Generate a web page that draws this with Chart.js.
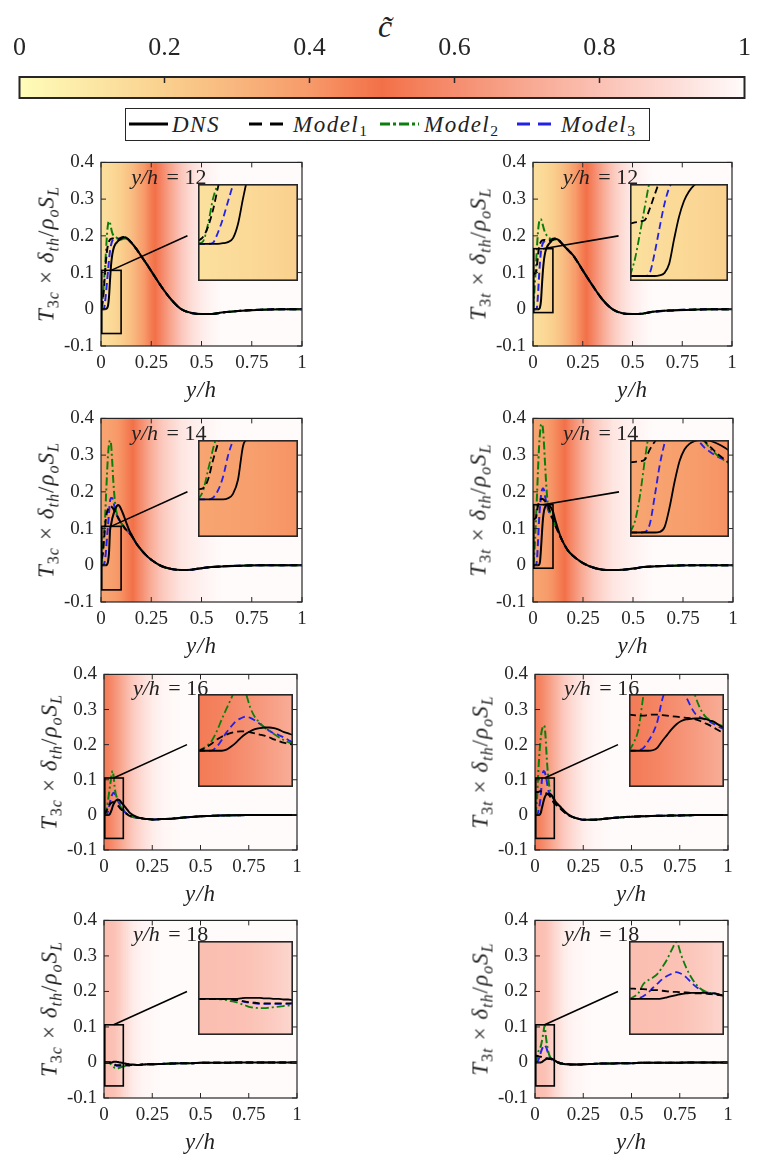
<!DOCTYPE html>
<html>
<head>
<meta charset="utf-8">
<script src="https://cdn.jsdelivr.net/npm/chart.js@4.4.1/dist/chart.umd.min.js"></script>
<style>
  body { margin: 0; background: #fff; }
  #fig { position: relative; width: 764px; height: 1154px; overflow: hidden;
         font-family: "Liberation Serif", "Times New Roman", "DejaVu Serif", "Noto Serif", serif; color: #222; }
  #fig canvas { position: absolute; }
  .lab { position: absolute; white-space: nowrap; line-height: 1; }
  .lab sub { font-size: 0.7em; vertical-align: -0.32em; line-height: 0; }
  .ylab { font-size: 23px; letter-spacing: 1px; transform: translate(-50%, -50%) rotate(-90deg); }
  .xlab { font-size: 23px; font-style: italic; letter-spacing: 1px; transform: translate(-50%, -50%); }
  .lg { position: absolute; top: 124px; transform: translateY(-50%); font-size: 23px;
        font-style: italic; letter-spacing: 1.5px; white-space: nowrap; line-height: 1; }
  .lg sub { font-size: 0.68em; font-style: normal; vertical-align: -0.3em; line-height: 0; }
  .lsw { position: absolute; top: 119px; }
</style>
</head>
<body>
<div id="fig">
  <div class="lab" style="left:385px;top:26px;transform:translate(-50%,-50%);font-size:32px;font-style:italic">c&#771;</div>
  <div style="position:absolute;left:125px;top:108px;width:523px;height:31px;border:1.5px solid #262626;background:#fff"></div>
  <svg class="lsw" style="left:129px" width="39" height="10"><line x1="0" y1="5" x2="39" y2="5" stroke="#000" stroke-width="3"/></svg>
  <div class="lg" style="left:172px">DNS</div>
  <svg class="lsw" style="left:249px" width="39" height="10"><line x1="0" y1="5" x2="39" y2="5" stroke="#000" stroke-width="3" stroke-dasharray="13 8"/></svg>
  <div class="lg" style="left:293px">Model<sub>1</sub></div>
  <svg class="lsw" style="left:380px" width="39" height="10"><line x1="0" y1="5" x2="39" y2="5" stroke="#0b7f0b" stroke-width="3" stroke-dasharray="10 3 3 3"/></svg>
  <div class="lg" style="left:424px">Model<sub>2</sub></div>
  <svg class="lsw" style="left:517px" width="39" height="10"><line x1="0" y1="5" x2="39" y2="5" stroke="#2121e8" stroke-width="3" stroke-dasharray="13 8"/></svg>
  <div class="lg" style="left:561px">Model<sub>3</sub></div>
</div>
<script>
"use strict";

// ─── Data ─────────────────────────────────────────────────────
// wall-normal position y/h shared by every profile
const yPos = [
  0, 0.005, 0.01, 0.015, 0.02, 0.025, 0.03, 0.035, 0.04, 0.045, 0.05, 0.055, 0.06, 0.065, 0.07, 0.075, 0.08, 0.085, 0.09, 0.095, 0.1,
  0.11, 0.12, 0.13, 0.14, 0.15, 0.175, 0.2, 0.225, 0.25,
  0.3, 0.35, 0.4, 0.45, 0.5, 0.55, 0.6, 0.7, 0.8, 0.9, 1,
];

// T3c, y/h = 12
const c12Dns = [
  0, 0, 0, 0, 0, 0.001, 0.003, 0.01, 0.035, 0.08, 0.12, 0.145, 0.16, 0.17, 0.176, 0.18, 0.183, 0.186, 0.188, 0.19, 0.192,
  0.195, 0.196, 0.193, 0.188, 0.182, 0.165, 0.145, 0.125, 0.104,
  0.062, 0.026, 0, -0.01, -0.013, -0.013, -0.009, -0.004, -0.001, 0, 0,
];
const c12M1 = [
  0.005, 0.012, 0.03, 0.06, 0.1, 0.135, 0.16, 0.176, 0.185, 0.19, 0.192, 0.193, 0.193, 0.192, 0.191, 0.19, 0.19, 0.19, 0.191, 0.193, 0.195,
  0.197, 0.196, 0.193, 0.188, 0.182, 0.165, 0.145, 0.125, 0.104,
  0.062, 0.026, 0, -0.01, -0.013, -0.013, -0.009, -0.004, -0.001, 0, 0,
];
const c12M2 = [
  0, 0.004, 0.035, 0.08, 0.11, 0.16, 0.205, 0.232, 0.24, 0.235, 0.222, 0.21, 0.203, 0.2, 0.198, 0.196, 0.194, 0.192, 0.19, 0.19, 0.19,
  0.192, 0.193, 0.192, 0.188, 0.182, 0.165, 0.145, 0.125, 0.104,
  0.062, 0.026, 0, -0.01, -0.013, -0.013, -0.009, -0.004, -0.001, 0, 0,
];
const c12M3 = [
  0, 0, 0, 0.002, 0.02, 0.045, 0.075, 0.105, 0.135, 0.16, 0.175, 0.185, 0.19, 0.192, 0.193, 0.193, 0.193, 0.193, 0.193, 0.193, 0.193,
  0.195, 0.195, 0.193, 0.188, 0.182, 0.165, 0.145, 0.125, 0.104,
  0.062, 0.026, 0, -0.01, -0.013, -0.013, -0.009, -0.004, -0.001, 0, 0,
];

// T3t, y/h = 12
const t12Dns = [
  0, 0, 0, 0, 0, 0, 0.001, 0.005, 0.022, 0.066, 0.106, 0.134, 0.151, 0.162, 0.169, 0.174, 0.178, 0.181, 0.184, 0.187, 0.189,
  0.192, 0.191, 0.188, 0.182, 0.176, 0.162, 0.148, 0.128, 0.106,
  0.064, 0.026, 0, -0.011, -0.013, -0.012, -0.007, -0.003, -0.001, 0, 0,
];
const t12M1 = [
  0.094, 0.096, 0.098, 0.1, 0.12, 0.145, 0.168, 0.178, 0.184, 0.187, 0.188, 0.189, 0.189, 0.188, 0.187, 0.186, 0.186, 0.187, 0.188, 0.19, 0.192,
  0.193, 0.191, 0.188, 0.182, 0.176, 0.162, 0.148, 0.128, 0.106,
  0.064, 0.026, 0, -0.011, -0.013, -0.012, -0.007, -0.003, -0.001, 0, 0,
];
const t12M2 = [
  0, 0.03, 0.075, 0.123, 0.17, 0.21, 0.235, 0.245, 0.245, 0.238, 0.228, 0.218, 0.21, 0.205, 0.2, 0.197, 0.195, 0.193, 0.19, 0.189, 0.189,
  0.19, 0.19, 0.187, 0.182, 0.176, 0.162, 0.148, 0.128, 0.106,
  0.064, 0.026, 0, -0.011, -0.013, -0.012, -0.007, -0.003, -0.001, 0, 0,
];
const t12M3 = [
  0, 0, 0, 0, 0.005, 0.04, 0.085, 0.128, 0.158, 0.172, 0.18, 0.184, 0.186, 0.187, 0.188, 0.188, 0.189, 0.189, 0.189, 0.19, 0.19,
  0.192, 0.191, 0.188, 0.182, 0.176, 0.162, 0.148, 0.128, 0.106,
  0.064, 0.026, 0, -0.011, -0.013, -0.012, -0.007, -0.003, -0.001, 0, 0,
];

// T3c, y/h = 14
const c14Dns = [
  0, 0, 0, 0, 0, 0, 0.002, 0.01, 0.035, 0.095, 0.11, 0.125, 0.135, 0.144, 0.152, 0.158, 0.162, 0.164, 0.163, 0.159, 0.153,
  0.14, 0.125, 0.11, 0.096, 0.085, 0.06, 0.042, 0.027, 0.015,
  -0.002, -0.01, -0.013, -0.012, -0.008, -0.005, -0.003, -0.001, 0, 0, 0,
];
const c14M1 = [
  0.018, 0.02, 0.035, 0.07, 0.1, 0.13, 0.145, 0.153, 0.158, 0.16, 0.16, 0.158, 0.155, 0.15, 0.145, 0.14, 0.135, 0.13, 0.125, 0.12, 0.116,
  0.108, 0.1, 0.094, 0.088, 0.082, 0.06, 0.042, 0.027, 0.015,
  -0.002, -0.01, -0.013, -0.012, -0.008, -0.005, -0.003, -0.001, 0, 0, 0,
];
const c14M2 = [
  0, 0.015, 0.052, 0.09, 0.125, 0.19, 0.25, 0.3, 0.33, 0.34, 0.33, 0.29, 0.24, 0.2, 0.17, 0.15, 0.138, 0.13, 0.124, 0.119, 0.115,
  0.107, 0.1, 0.094, 0.088, 0.082, 0.06, 0.042, 0.027, 0.015,
  -0.002, -0.01, -0.013, -0.012, -0.008, -0.005, -0.003, -0.001, 0, 0, 0,
];
const c14M3 = [
  0, 0, 0, 0.003, 0.016, 0.04, 0.078, 0.107, 0.145, 0.175, 0.183, 0.183, 0.178, 0.165, 0.152, 0.142, 0.135, 0.129, 0.124, 0.119, 0.115,
  0.107, 0.1, 0.094, 0.088, 0.082, 0.06, 0.042, 0.027, 0.015,
  -0.002, -0.01, -0.013, -0.012, -0.008, -0.005, -0.003, -0.001, 0, 0, 0,
];

// T3t, y/h = 14
const t14Dns = [
  0, 0, 0, 0, 0, 0, 0.001, 0.01, 0.045, 0.09, 0.127, 0.148, 0.158, 0.163, 0.165, 0.165, 0.164, 0.161, 0.157, 0.152, 0.146,
  0.125, 0.107, 0.09, 0.075, 0.063, 0.04, 0.026, 0.015, 0.006,
  -0.006, -0.012, -0.013, -0.012, -0.009, -0.005, -0.003, -0.001, 0, 0, 0,
];
const t14M1 = [
  0.125, 0.126, 0.127, 0.13, 0.148, 0.162, 0.172, 0.178, 0.18, 0.181, 0.18, 0.178, 0.175, 0.17, 0.167, 0.163, 0.155, 0.146, 0.138, 0.131, 0.124,
  0.11, 0.098, 0.086, 0.074, 0.063, 0.04, 0.026, 0.015, 0.006,
  -0.006, -0.012, -0.013, -0.012, -0.009, -0.005, -0.003, -0.001, 0, 0, 0,
];
const t14M2 = [
  0, 0.02, 0.065, 0.13, 0.19, 0.26, 0.32, 0.36, 0.383, 0.385, 0.37, 0.33, 0.28, 0.23, 0.19, 0.165, 0.152, 0.143, 0.135, 0.129, 0.124,
  0.11, 0.098, 0.086, 0.074, 0.063, 0.04, 0.026, 0.015, 0.006,
  -0.006, -0.012, -0.013, -0.012, -0.009, -0.005, -0.003, -0.001, 0, 0, 0,
];
const t14M3 = [
  0, 0, 0, 0.001, 0.015, 0.065, 0.12, 0.16, 0.19, 0.205, 0.21, 0.205, 0.19, 0.175, 0.162, 0.152, 0.145, 0.139, 0.134, 0.13, 0.126,
  0.112, 0.099, 0.087, 0.075, 0.063, 0.04, 0.026, 0.015, 0.006,
  -0.006, -0.012, -0.013, -0.012, -0.009, -0.005, -0.003, -0.001, 0, 0, 0,
];

// T3c, y/h = 16
const c16Dns = [
  0, 0, 0, 0, 0, 0, 0.002, 0.008, 0.015, 0.024, 0.031, 0.036, 0.04, 0.042, 0.043, 0.043, 0.042, 0.039, 0.035, 0.032, 0.029,
  0.022, 0.015, 0.008, 0.003, -0.001, -0.007, -0.01, -0.012, -0.013,
  -0.012, -0.011, -0.008, -0.006, -0.004, -0.003, -0.002, -0.001, 0, 0, 0,
];
const c16M1 = [
  0, 0.003, 0.008, 0.014, 0.021, 0.026, 0.03, 0.033, 0.035, 0.036, 0.036, 0.034, 0.032, 0.03, 0.028, 0.025, 0.021, 0.018, 0.015, 0.013, 0.011,
  0.006, 0.002, -0.002, -0.004, -0.006, -0.008, -0.01, -0.012, -0.013,
  -0.012, -0.011, -0.008, -0.006, -0.004, -0.003, -0.002, -0.001, 0, 0, 0,
];
const c16M2 = [
  0, 0.004, 0.01, 0.02, 0.037, 0.058, 0.078, 0.097, 0.118, 0.125, 0.108, 0.08, 0.062, 0.052, 0.043, 0.037, 0.031, 0.025, 0.02, 0.016, 0.012,
  0.006, 0.002, -0.002, -0.004, -0.006, -0.008, -0.01, -0.012, -0.013,
  -0.012, -0.011, -0.008, -0.006, -0.004, -0.003, -0.002, -0.001, 0, 0, 0,
];
const c16M3 = [
  0, 0, 0, 0.001, 0.008, 0.02, 0.034, 0.045, 0.055, 0.06, 0.063, 0.061, 0.056, 0.05, 0.043, 0.037, 0.032, 0.029, 0.025, 0.02, 0.015,
  0.007, 0.002, -0.002, -0.004, -0.006, -0.008, -0.01, -0.012, -0.013,
  -0.012, -0.011, -0.008, -0.006, -0.004, -0.003, -0.002, -0.001, 0, 0, 0,
];

// T3t, y/h = 16
const t16Dns = [
  0, 0, 0, 0, 0, 0.001, 0.006, 0.018, 0.029, 0.04, 0.049, 0.055, 0.058, 0.059, 0.06, 0.06, 0.059, 0.056, 0.053, 0.047, 0.042,
  0.035, 0.029, 0.024, 0.018, 0.012, 0, -0.007, -0.011, -0.014,
  -0.014, -0.012, -0.009, -0.007, -0.005, -0.004, -0.003, -0.002, -0.001, 0, 0,
];
const t16M1 = [
  0.067, 0.066, 0.065, 0.065, 0.066, 0.067, 0.067, 0.066, 0.065, 0.064, 0.063, 0.062, 0.061, 0.06, 0.058, 0.055, 0.051, 0.047, 0.042, 0.037, 0.033,
  0.028, 0.024, 0.019, 0.014, 0.009, -0.001, -0.007, -0.011, -0.014,
  -0.014, -0.012, -0.009, -0.007, -0.005, -0.004, -0.003, -0.002, -0.001, 0, 0,
];
const t16M2 = [
  0, 0.015, 0.04, 0.1, 0.15, 0.19, 0.22, 0.24, 0.25, 0.255, 0.25, 0.22, 0.17, 0.13, 0.1, 0.078, 0.064, 0.057, 0.052, 0.048, 0.045,
  0.036, 0.029, 0.022, 0.015, 0.009, -0.001, -0.007, -0.011, -0.014,
  -0.014, -0.012, -0.009, -0.007, -0.005, -0.004, -0.003, -0.002, -0.001, 0, 0,
];
const t16M3 = [
  0, 0, 0.001, 0.005, 0.017, 0.032, 0.055, 0.095, 0.118, 0.125, 0.122, 0.113, 0.1, 0.082, 0.068, 0.062, 0.058, 0.054, 0.049, 0.044, 0.04,
  0.034, 0.027, 0.02, 0.014, 0.009, -0.001, -0.007, -0.011, -0.014,
  -0.014, -0.012, -0.009, -0.007, -0.005, -0.004, -0.003, -0.002, -0.001, 0, 0,
];

// T3c, y/h = 18
const c18Dns = [
  0, 0, 0, 0, 0, 0, 0, 0, 0, 0.001, 0.002, 0.002, 0.002, 0.002, 0.001, 0.001, 0, 0, -0.001, -0.001, -0.002,
  -0.003, -0.004, -0.005, -0.006, -0.006, -0.007, -0.006, -0.005, -0.005,
  -0.004, -0.003, -0.002, -0.002, -0.001, -0.001, -0.001, 0, 0, 0, 0,
];
const c18M1 = [
  0, 0, 0, 0, 0, 0, 0, -0.001, -0.002, -0.003, -0.005, -0.006, -0.007, -0.008, -0.008, -0.008, -0.008, -0.008, -0.008, -0.008, -0.008,
  -0.008, -0.008, -0.008, -0.007, -0.007, -0.007, -0.006, -0.005, -0.005,
  -0.004, -0.003, -0.002, -0.002, -0.001, -0.001, -0.001, 0, 0, 0, 0,
];
const c18M2 = [
  0, 0, 0, 0, 0, -0.001, -0.002, -0.004, -0.006, -0.009, -0.012, -0.015, -0.016, -0.017, -0.017, -0.016, -0.015, -0.014, -0.013, -0.012, -0.011,
  -0.01, -0.009, -0.008, -0.008, -0.007, -0.007, -0.006, -0.005, -0.005,
  -0.004, -0.003, -0.002, -0.002, -0.001, -0.001, -0.001, 0, 0, 0, 0,
];
const c18M3 = [
  0, 0, 0, 0, 0, 0, 0, -0.001, -0.002, -0.004, -0.006, -0.007, -0.008, -0.009, -0.009, -0.009, -0.009, -0.009, -0.009, -0.009, -0.008,
  -0.008, -0.008, -0.008, -0.007, -0.007, -0.007, -0.006, -0.005, -0.005,
  -0.004, -0.003, -0.002, -0.002, -0.001, -0.001, -0.001, 0, 0, 0, 0,
];

// T3t, y/h = 18
const t18Dns = [
  0, 0, 0, 0, 0, 0, 0, 0.001, 0.003, 0.005, 0.007, 0.009, 0.01, 0.011, 0.011, 0.011, 0.011, 0.01, 0.01, 0.008, 0.006,
  0.003, 0, -0.002, -0.003, -0.004, -0.005, -0.006, -0.006, -0.005,
  -0.004, -0.003, -0.003, -0.002, -0.002, -0.001, -0.001, -0.001, 0, 0, 0,
];
const t18M1 = [
  0.019, 0.019, 0.018, 0.018, 0.017, 0.016, 0.016, 0.015, 0.014, 0.013, 0.013, 0.012, 0.012, 0.011, 0.01, 0.01, 0.01, 0.009, 0.008, 0.007, 0.006,
  0.003, 0, -0.002, -0.003, -0.004, -0.005, -0.006, -0.006, -0.005,
  -0.004, -0.003, -0.003, -0.002, -0.002, -0.001, -0.001, -0.001, 0, 0, 0,
];
const t18M2 = [
  0, 0.004, 0.011, 0.027, 0.034, 0.039, 0.046, 0.058, 0.072, 0.09, 0.104, 0.08, 0.058, 0.041, 0.028, 0.019, 0.014, 0.011, 0.01, 0.008, 0.006,
  0.003, 0, -0.002, -0.003, -0.004, -0.005, -0.006, -0.006, -0.005,
  -0.004, -0.003, -0.003, -0.002, -0.002, -0.001, -0.001, -0.001, 0, 0, 0,
];
const t18M3 = [
  0, 0, 0.001, 0.005, 0.011, 0.02, 0.028, 0.036, 0.042, 0.046, 0.049, 0.046, 0.04, 0.031, 0.023, 0.017, 0.013, 0.011, 0.01, 0.008, 0.006,
  0.003, 0, -0.002, -0.003, -0.004, -0.005, -0.006, -0.006, -0.005,
  -0.004, -0.003, -0.003, -0.002, -0.002, -0.001, -0.001, -0.001, 0, 0, 0,
];

// mean progress variable c~ across the channel, one profile per station (background)
const cPos12 = [0, 0.05, 0.1, 0.15, 0.2, 0.25, 0.27, 0.3, 0.35, 0.4, 0.45, 0.5, 0.55, 0.6, 1];
const cVal12 = [0.13, 0.16, 0.2, 0.27, 0.37, 0.47, 0.5, 0.57, 0.7, 0.82, 0.9, 0.95, 0.98, 1, 1];
const cPos14 = [0, 0.05, 0.1, 0.13, 0.16, 0.2, 0.25, 0.3, 0.35, 0.4, 0.5, 0.6, 1];
const cVal14 = [0.36, 0.38, 0.42, 0.46, 0.5, 0.6, 0.72, 0.82, 0.88, 0.93, 0.97, 1, 1];
const cPos16 = [0, 0.03, 0.06, 0.1, 0.15, 0.2, 0.25, 0.3, 0.4, 1];
const cVal16 = [0.53, 0.57, 0.63, 0.72, 0.83, 0.9, 0.95, 0.98, 1, 1];
const cPos18 = [0, 0.05, 0.08, 0.1, 0.15, 0.2, 0.3, 1];
const cVal18 = [0.79, 0.8, 0.84, 0.88, 0.95, 0.98, 1, 1];

// ─── Styles ───────────────────────────────────────────────────
const SERIES = [
  { label: "DNS", color: "#000000", dash: [] },
  { label: "Model1", color: "#000000", dash: [7, 4] },
  { label: "Model2", color: "#0b7f0b", dash: [8, 3, 2, 3] },
  { label: "Model3", color: "#2121e8", dash: [7, 4] },
];
// colour map for c~ (yellow -> red-orange -> white)
const CMAP_AT = [0, 0.1, 0.2, 0.3, 0.4, 0.47, 0.5, 0.53, 0.6, 0.7, 0.8, 0.9, 1];
const CMAP_RGB = [
  [255, 252, 185], [252, 231, 165], [250, 208, 142], [248, 182, 125], [247, 154, 106], [244, 124, 82],
  [242, 112, 72], [244, 122, 85], [245, 141, 110], [248, 168, 145], [251, 193, 180], [253, 220, 214], [255, 251, 251],
];
const FONT = "'Liberation Serif', 'Times New Roman', 'DejaVu Serif', 'Noto Serif', serif";
const INK = "#262626";

Chart.defaults.font.family = FONT;
Chart.defaults.font.size = 19;
Chart.defaults.color = INK;

// ─── Helpers ──────────────────────────────────────────────────
function lerp(xs, ys, v) {
  if (v <= xs[0]) return ys[0];
  for (let i = 1; i < xs.length; i++) {
    if (v <= xs[i]) {
      const t = (v - xs[i - 1]) / (xs[i] - xs[i - 1]);
      return ys[i - 1] + t * (ys[i] - ys[i - 1]);
    }
  }
  return ys[ys.length - 1];
}

function cmap(c) {
  const rgb = [0, 1, 2].map((k) => Math.round(lerp(CMAP_AT, CMAP_RGB.map((p) => p[k]), c)));
  return `rgb(${rgb[0]},${rgb[1]},${rgb[2]})`;
}

const fmt = (v) => String(Math.round(v * 100) / 100);

const fig = document.getElementById("fig");
function addCanvas(left, top, w, h) {
  const cv = document.createElement("canvas");
  cv.width = w;
  cv.height = h;
  cv.style.left = left + "px";
  cv.style.top = top + "px";
  fig.appendChild(cv);
  return cv;
}
function addLabel(cls, html, x, y) {
  const d = document.createElement("div");
  d.className = "lab " + cls;
  d.innerHTML = html;
  d.style.left = x + "px";
  d.style.top = y + "px";
  fig.appendChild(d);
}

// paint the c~ field column by column behind the curves
function fieldPlugin(pos, val) {
  return {
    id: "field",
    beforeDatasetsDraw(chart) {
      const { ctx, chartArea: a, scales: { x } } = chart;
      ctx.save();
      for (let px = Math.floor(a.left); px < Math.ceil(a.right); px++) {
        ctx.fillStyle = cmap(lerp(pos, val, x.getValueForPixel(px + 0.5)));
        ctx.fillRect(px, a.top, 1, a.bottom - a.top);
      }
      ctx.restore();
    },
  };
}

// box, inward ticks, zoom window, connector and station label
function framePlugin(opt) {
  return {
    id: "frame",
    afterDraw(chart) {
      const { ctx, chartArea: a, scales: { x, y } } = chart;
      ctx.save();
      ctx.strokeStyle = INK;
      if (opt.inset) {
        ctx.lineWidth = 1.6;
        ctx.strokeRect(a.left + 0.8, a.top + 0.8, a.right - a.left - 1.6, a.bottom - a.top - 1.6);
        ctx.restore();
        return;
      }
      ctx.lineWidth = 1.2;
      ctx.strokeRect(a.left, a.top, a.right - a.left, a.bottom - a.top);
      ctx.lineWidth = 1;
      ctx.beginPath();
      x.ticks.forEach((t) => {
        const p = x.getPixelForValue(t.value);
        ctx.moveTo(p, a.bottom); ctx.lineTo(p, a.bottom - 5);
        ctx.moveTo(p, a.top); ctx.lineTo(p, a.top + 5);
      });
      y.ticks.forEach((t) => {
        const p = y.getPixelForValue(t.value);
        ctx.moveTo(a.left, p); ctx.lineTo(a.left + 5, p);
        ctx.moveTo(a.right, p); ctx.lineTo(a.right - 5, p);
      });
      ctx.stroke();

      // zoom window and its leader line
      ctx.strokeStyle = "#000";
      ctx.lineWidth = 1.6;
      const x0 = x.getPixelForValue(0), x1 = x.getPixelForValue(opt.zoomX);
      const yLo = y.getPixelForValue(opt.zoomY[0]), yHi = y.getPixelForValue(opt.zoomY[1]);
      ctx.strokeRect(x0 + 0.8, yHi, x1 - x0 - 0.8, yLo - yHi);
      ctx.beginPath();
      ctx.moveTo(x.getPixelForValue(opt.zoomX / 2), yHi);
      ctx.lineTo(x.getPixelForValue(0.43), y.getPixelForValue(0.2));
      ctx.stroke();

      // station label
      const tx = x.getPixelForValue(0.15), ty = y.getPixelForValue(0.358);
      ctx.fillStyle = "#222";
      ctx.textBaseline = "middle";
      ctx.font = `italic 22px ${FONT}`;
      ctx.fillText("y/h", tx, ty);
      const w = ctx.measureText("y/h").width;
      ctx.font = `22px ${FONT}`;
      ctx.fillText(" = " + opt.station, tx + w + 3, ty);
      ctx.restore();
    },
  };
}

function datasetsFor(lines, width) {
  return lines.map((ys, i) => ({
    label: SERIES[i].label,
    data: yPos.map((x, k) => ({ x, y: ys[k] })),
    borderColor: SERIES[i].color,
    borderDash: SERIES[i].dash,
    borderWidth: width,
    pointRadius: 0,
    fill: false,
    cubicInterpolationMode: "monotone",
  }));
}

const baseOptions = {
  responsive: false,
  animation: false,
  events: [],
  plugins: { legend: { display: false }, tooltip: { enabled: false } },
};
const noGrid = { display: false, drawTicks: false };

// ─── Layout ───────────────────────────────────────────────────
// plot-area geometry of each row: top, height, [left,right] of left / right panel
const ROWS = [
  { top: 156, h: 190, L: [101, 302], R: [533, 732] },
  { top: 412, h: 190, L: [101, 302], R: [533, 733] },
  { top: 668, h: 182, L: [104, 297], R: [535, 728] },
  { top: 914, h: 184, L: [104, 297], R: [535, 728] },
];

const panels = [
  { row: 0, side: "L", comp: "c", station: 12, lines: [c12Dns, c12M1, c12M2, c12M3], cp: cPos12, cv: cVal12, zoomY: [-0.066, 0.106] },
  { row: 0, side: "R", comp: "t", station: 12, lines: [t12Dns, t12M1, t12M2, t12M3], cp: cPos12, cv: cVal12, zoomY: [-0.009, 0.165] },
  { row: 1, side: "L", comp: "c", station: 14, lines: [c14Dns, c14M1, c14M2, c14M3], cp: cPos14, cv: cVal14, zoomY: [-0.067, 0.106] },
  { row: 1, side: "R", comp: "t", station: 14, lines: [t14Dns, t14M1, t14M2, t14M3], cp: cPos14, cv: cVal14, zoomY: [-0.008, 0.165] },
  { row: 2, side: "L", comp: "c", station: 16, lines: [c16Dns, c16M1, c16M2, c16M3], cp: cPos16, cv: cVal16, zoomY: [-0.067, 0.105] },
  { row: 2, side: "R", comp: "t", station: 16, lines: [t16Dns, t16M1, t16M2, t16M3], cp: cPos16, cv: cVal16, zoomY: [-0.067, 0.105] },
  { row: 3, side: "L", comp: "c", station: 18, lines: [c18Dns, c18M1, c18M2, c18M3], cp: cPos18, cv: cVal18, zoomY: [-0.066, 0.106] },
  { row: 3, side: "R", comp: "t", station: 18, lines: [t18Dns, t18M1, t18M2, t18M3], cp: cPos18, cv: cVal18, zoomY: [-0.066, 0.106] },
];
const ZOOM_X = 0.1;

// ─── Colour bar ───────────────────────────────────────────────
new Chart(addCanvas(0, 0, 764, 105), {
  type: "line",
  data: { datasets: [] },
  options: {
    ...baseOptions,
    layout: { padding: { left: 15, right: 9, top: 0, bottom: 7 } },
    scales: {
      x: {
        type: "linear", position: "top", min: 0, max: 1,
        grid: noGrid, border: { display: false },
        ticks: { stepSize: 0.2, padding: 13, maxRotation: 0, autoSkip: false, font: { size: 26 }, callback: fmt },
        afterFit: (s) => { s.height = 77; },
      },
      y: { display: false, min: 0, max: 1 },
    },
  },
  plugins: [
    {
      id: "cbar",
      beforeDatasetsDraw(chart) {
        const { ctx, chartArea: a, scales: { x } } = chart;
        for (let px = Math.floor(a.left); px < Math.ceil(a.right); px++) {
          ctx.fillStyle = cmap(x.getValueForPixel(px + 0.5));
          ctx.fillRect(px, a.top, 1, a.bottom - a.top);
        }
      },
      afterDraw(chart) {
        const { ctx, chartArea: a, scales: { x } } = chart;
        ctx.save();
        ctx.strokeStyle = INK;
        ctx.lineWidth = 2;
        ctx.strokeRect(a.left, a.top, a.right - a.left, a.bottom - a.top);
        ctx.lineWidth = 1.5;
        ctx.beginPath();
        x.ticks.forEach((t) => {
          if (t.value <= 0 || t.value >= 1) return;
          const p = x.getPixelForValue(t.value);
          ctx.moveTo(p, a.top); ctx.lineTo(p, a.top + 6);
        });
        ctx.stroke();
        ctx.restore();
      },
    },
  ],
});

// ─── Panels ───────────────────────────────────────────────────
const PAD_L = 75, PAD_T = 12, PAD_R = 14, PAD_B = 40;

panels.forEach((p) => {
  const g = ROWS[p.row];
  const [left, right] = g[p.side];
  const W = right - left, H = g.h, T = g.top;

  new Chart(addCanvas(left - PAD_L, T - PAD_T, W + PAD_L + PAD_R, H + PAD_T + PAD_B), {
    type: "line",
    data: { datasets: datasetsFor(p.lines, 2) },
    options: {
      ...baseOptions,
      layout: { padding: { left: 0, top: PAD_T, right: PAD_R, bottom: 0 } },
      scales: {
        x: {
          type: "linear", min: 0, max: 1,
          grid: noGrid, border: { display: false },
          ticks: { stepSize: 0.25, padding: 6, maxRotation: 0, autoSkip: false, callback: fmt },
          afterFit: (s) => { s.height = PAD_B; },
        },
        y: {
          type: "linear", min: -0.1, max: 0.4,
          grid: noGrid, border: { display: false },
          ticks: { stepSize: 0.1, padding: 7, autoSkip: false, callback: fmt },
          afterFit: (s) => { s.width = PAD_L; },
        },
      },
    },
    plugins: [fieldPlugin(p.cp, p.cv), framePlugin({ zoomX: ZOOM_X, zoomY: p.zoomY, station: p.station })],
  });

  // magnified view of the near-wall window
  const il = Math.round(left + 0.485 * W), ir = Math.round(right - 0.02 * W);
  const it = Math.round(T + 0.145 * H), ih = Math.round(0.51 * H);
  new Chart(addCanvas(il, it, ir - il, ih), {
    type: "line",
    data: { datasets: datasetsFor(p.lines, 1.8) },
    options: {
      ...baseOptions,
      layout: { padding: 0 },
      scales: {
        x: { type: "linear", display: false, min: 0, max: ZOOM_X },
        y: { type: "linear", display: false, min: p.zoomY[0], max: p.zoomY[1] },
      },
    },
    plugins: [fieldPlugin(p.cp, p.cv), framePlugin({ inset: true })],
  });

  addLabel("ylab",
    `<i>T</i><sub>3<i>${p.comp}</i></sub><span style="margin:0 0.3em">×</span><i>δ</i><sub><i>th</i></sub>/<i>ρ</i><sub><i>o</i></sub><i>S</i><sub><i>L</i></sub>`,
    left - 55, T + H / 2 + 3);
  addLabel("xlab", "y/h", left + W / 2, T + H + 43);
});
</script>
</body>
</html>
